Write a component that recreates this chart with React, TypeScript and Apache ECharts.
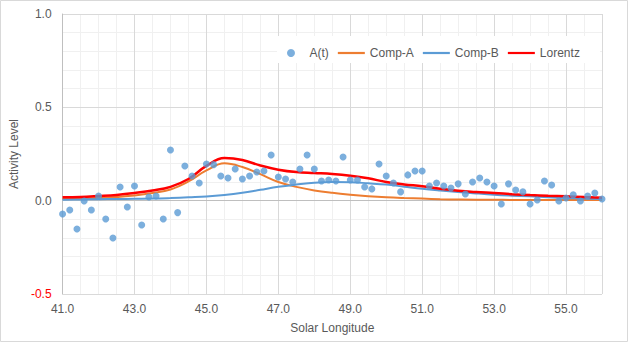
import React, { useEffect, useRef } from "react";
import * as echarts from "echarts";

const pointLongitudes = [
  41.0, 41.2, 41.4, 41.6, 41.8, 42.0, 42.2, 42.4, 42.6, 42.8,
  43.0, 43.2, 43.4, 43.6, 43.8, 44.0, 44.2, 44.4, 44.6, 44.8,
  45.0, 45.2, 45.4, 45.6, 45.8, 46.0, 46.2, 46.4, 46.6, 46.8,
  47.0, 47.2, 47.4, 47.6, 47.8, 48.0, 48.2, 48.4, 48.6, 48.8,
  49.0, 49.2, 49.4, 49.6, 49.8, 50.0, 50.2, 50.4, 50.6, 50.8,
  51.0, 51.2, 51.4, 51.6, 51.8, 52.0, 52.2, 52.4, 52.6, 52.8,
  53.0, 53.2, 53.4, 53.6, 53.8, 54.0, 54.2, 54.4, 54.6, 54.8,
  55.0, 55.2, 55.4, 55.6, 55.8, 56.0,
];
const activity = [
  -0.071, -0.05, -0.152, -0.002, -0.05, 0.025, -0.098, -0.2, 0.073, -0.034,
  0.079, -0.13, 0.02, 0.025, -0.098, 0.271, -0.064, 0.186, 0.132, 0.095,
  0.196, 0.193, 0.132, 0.121, 0.17, 0.116, 0.132, 0.154, 0.159, 0.245,
  0.127, 0.116, 0.1, 0.17, 0.245, 0.17, 0.105, 0.111, 0.105, 0.234,
  0.111, 0.111, 0.073, 0.063, 0.196, 0.132, 0.095, 0.047, 0.138, 0.159,
  0.159, 0.079, 0.095, 0.079, 0.068, 0.09, 0.036, 0.1, 0.121, 0.1,
  0.079, -0.018, 0.09, 0.057, 0.047, -0.018, 0.004, 0.105, 0.084, -0.002,
  0.014, 0.031, -0.002, 0.025, 0.041, 0.009,
];

const curveLongitudes = [
  41.0, 41.5, 42.0, 42.5, 43.0, 43.5, 44.0, 44.5, 45.0, 45.5,
  46.0, 46.5, 47.0, 47.5, 48.0, 48.5, 49.0, 49.5, 50.0, 50.5,
  51.0, 51.5, 52.0, 52.5, 53.0, 53.5, 54.0, 54.5, 55.0, 55.5, 56.0,
];
const compA = [
  0.009, 0.011, 0.014, 0.02, 0.028, 0.041, 0.06, 0.103, 0.162, 0.2,
  0.18, 0.142, 0.1, 0.074, 0.055, 0.042, 0.032, 0.024, 0.018, 0.014,
  0.011, 0.008, 0.006, 0.005, 0.005, 0.004, 0.004, 0.004, 0.004, 0.004, 0.004,
];
const compB = [
  0.005, 0.006, 0.008, 0.009, 0.01, 0.011, 0.014, 0.018, 0.022, 0.03,
  0.042, 0.058, 0.074, 0.086, 0.096, 0.1, 0.099, 0.093, 0.086, 0.075,
  0.064, 0.055, 0.047, 0.039, 0.032, 0.027, 0.023, 0.018, 0.014, 0.011, 0.009,
];
const lorentz = [
  0.018, 0.02, 0.025, 0.031, 0.041, 0.054, 0.074, 0.116, 0.186, 0.228,
  0.218, 0.188, 0.166, 0.153, 0.148, 0.143, 0.134, 0.12, 0.1, 0.087,
  0.077, 0.064, 0.053, 0.046, 0.041, 0.035, 0.03, 0.026, 0.023, 0.019, 0.016,
];

const xRange = [41, 56];
const yRange = [-0.5, 1.0];
const seriesNames = ["A(t)", "Comp-A", "Comp-B", "Lorentz"];
const xTitle = "Solar Longitude";
const yTitle = "Activity Level";

const FONT = "'Liberation Sans', Arial, sans-serif";
const TEXT = "#595959";
const LINE_ICON = "path://M0,0 L27,0 L27,2.2 L0,2.2 Z";

function pairs(xs: number[], ys: number[]) {
  return xs.map((x, i) => [x, ys[i]]);
}

export default function App() {
  const ref = useRef<HTMLDivElement>(null);
  useEffect(() => {
    if (!ref.current) return;
    const chart = echarts.init(ref.current, null, { renderer: "svg" });
    const lineSeries = (name: string, data: number[], color: string, width: number, z: number) => ({
      name,
      type: "line",
      xAxisIndex: 1,
      yAxisIndex: 1,
      data: pairs(curveLongitudes, data),
      smooth: 0.4,
      symbol: "none",
      lineStyle: { color, width },
      itemStyle: { color },
      z,
    });
    chart.setOption({
      animation: false,
      textStyle: { fontFamily: FONT },
      grid: { left: 53, right: 26, top: 14, bottom: 48, containLabel: false },
      graphic: [
        {
          type: "rect",
          shape: { x: 0.5, y: 0.5, width: 627, height: 341 },
          style: { fill: "none", stroke: "#d9d9d9", lineWidth: 1 },
          silent: true,
          z: 1,
        },
        {
          type: "rect",
          shape: { x: 277, y: 36, width: 323, height: 27 },
          style: { fill: "#ffffff" },
          silent: true,
          z: 3,
        },
      ],
      legend: {
        left: 282,
        top: 42,
        itemWidth: 27,
        itemHeight: 8,
        itemGap: 9,
        z: 10,
        textStyle: { color: TEXT, fontSize: 12, fontFamily: FONT },
        data: [
          { name: seriesNames[0], icon: "circle", itemStyle: { borderWidth: 0 } },
          { name: seriesNames[1], icon: LINE_ICON, itemStyle: { color: "#ed7d31", borderWidth: 0 } },
          { name: seriesNames[2], icon: LINE_ICON, itemStyle: { color: "#5b9bd5", borderWidth: 0 } },
          { name: seriesNames[3], icon: LINE_ICON, itemStyle: { color: "#ff0000", borderWidth: 0 } },
        ],
      },
      xAxis: [
        {
          type: "value",
          position: "bottom",
          min: xRange[0],
          max: xRange[1],
          interval: 0.5,
          axisLine: { show: false },
          axisTick: { show: false },
          axisLabel: { show: false },
          splitLine: { show: true, lineStyle: { color: "#f0f0f0", width: 1 } },
          z: 0,
        },
        {
          type: "value",
          position: "bottom",
          min: xRange[0],
          max: xRange[1],
          interval: 2,
          axisLine: { show: false, onZero: false },
          axisTick: { show: false },
          axisLabel: {
            color: TEXT,
            fontSize: 12,
            fontFamily: FONT,
            margin: 9,
            showMaxLabel: false,
            formatter: (v: number) => Number(v).toFixed(1),
          },
          splitLine: { show: true, lineStyle: { color: "#d9d9d9", width: 1 } },
          name: xTitle,
          nameLocation: "middle",
          nameGap: 28,
          nameTextStyle: { color: TEXT, fontSize: 12, fontFamily: FONT },
          z: 1,
        },
      ],
      yAxis: [
        {
          type: "value",
          position: "left",
          min: yRange[0],
          max: yRange[1],
          interval: 0.1,
          axisLine: { show: false },
          axisTick: { show: false },
          axisLabel: { show: false },
          splitLine: { show: true, lineStyle: { color: "#f0f0f0", width: 1 } },
          z: 0,
        },
        {
          type: "value",
          position: "left",
          min: yRange[0],
          max: yRange[1],
          interval: 0.5,
          axisLine: { show: true, onZero: false, lineStyle: { color: "#bfbfbf", width: 1 } },
          axisTick: { show: false },
          axisLabel: {
            color: (v: any) => (Number(v) < 0 ? "#ff0000" : TEXT),
            fontSize: 12,
            fontFamily: FONT,
            margin: 11,
            formatter: (v: number) => Number(v).toFixed(1),
          },
          splitLine: { show: true, lineStyle: { color: "#d9d9d9", width: 1 } },
          name: yTitle,
          nameLocation: "middle",
          nameGap: 33,
          nameRotate: 90,
          nameTextStyle: { color: TEXT, fontSize: 12, fontFamily: FONT },
          z: 1,
        },
      ],
      series: [
        {
          name: seriesNames[0],
          type: "scatter",
          xAxisIndex: 1,
          yAxisIndex: 1,
          data: pairs(pointLongitudes, activity),
          symbol: "circle",
          symbolSize: 7,
          itemStyle: { color: "#5b9bd5" },
          z: 6,
          markLine: {
            silent: true,
            symbol: "none",
            label: { show: false },
            lineStyle: { color: "#bfbfbf", width: 1, type: "solid" },
            data: [{ yAxis: 0 }],
            z: 1,
          },
        },
        lineSeries(seriesNames[1], compA, "#ed7d31", 2, 3),
        lineSeries(seriesNames[2], compB, "#5b9bd5", 2, 3),
        lineSeries(seriesNames[3], lorentz, "#ff0000", 2.5, 4),
      ],
    });
    return () => chart.dispose();
  }, []);
  return (
    <div
      ref={ref}
      style={{ position: "absolute", left: 0, top: 0, width: 628, height: 342, background: "#fff" }}
    />
  );
}
